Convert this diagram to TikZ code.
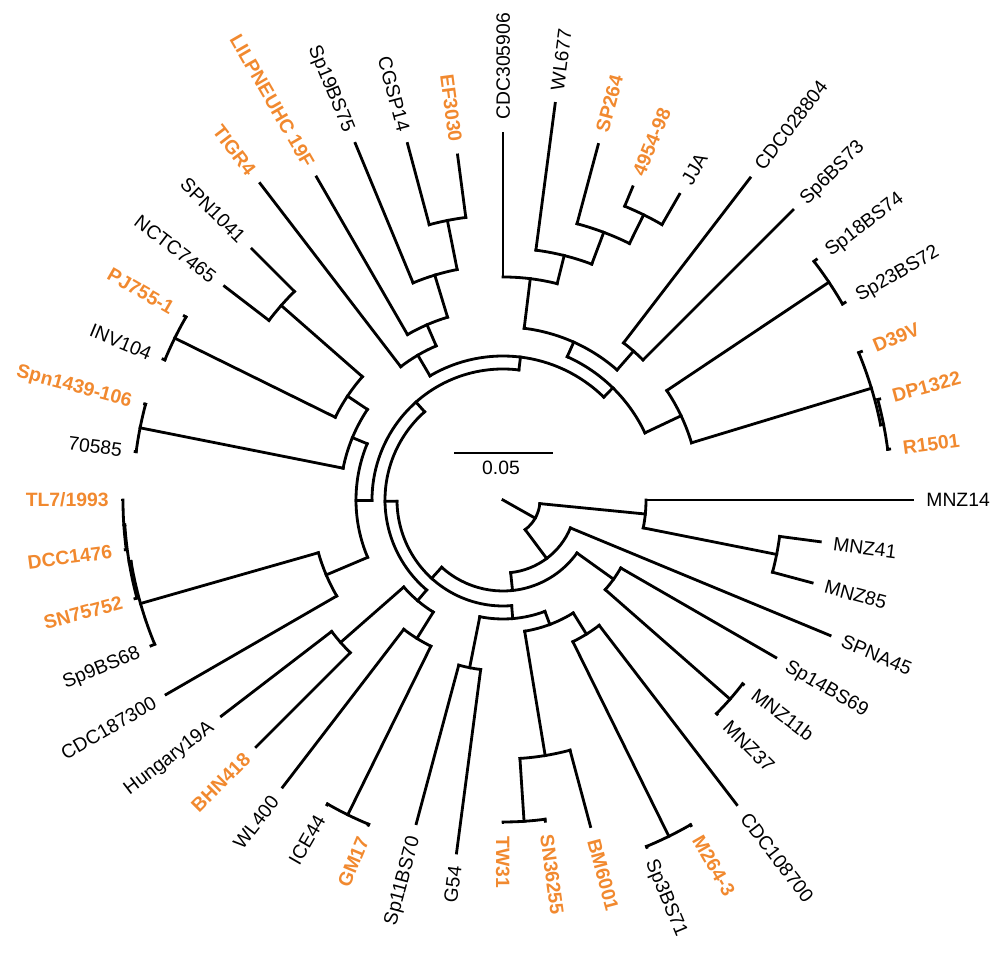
\documentclass[tikz,border=0pt]{standalone}
\usepackage{fontspec}
\setmainfont{Liberation Sans}
\definecolor{strainorange}{RGB}{241,137,47}

% radial branch: name, angle, r from, r to
\newcommand{\brn}[4]{%
  \coordinate (#1s) at (#2:#3);
  \coordinate (#1) at (#2:#4);
  \draw (#1s) -- (#1);
}
% arc of a clade: r, angle from, angle to
\newcommand{\cladearc}[3]{%
  \draw (#2:#1) arc[start angle=#2, end angle=#3, radius=#1];
}
% leaf: name, angle, r from, r tip, style, label
\newcommand{\leaf}[6]{%
  \brn{#1}{#2}{#3}{#4}
  \pgfmathsetmacro{\lr}{#4+12}
  \pgfmathtruncatemacro{\lside}{and(#2>90.5,#2<269.5)}
  \ifnum\lside=1
    \node[#5, anchor=east, rotate=#2-180] (#1l) at (#2:\lr) {#6};
  \else
    \node[#5, anchor=west, rotate=#2] (#1l) at (#2:\lr) {#6};
  \fi
}

\begin{document}
\begin{tikzpicture}[x=0.02cm, y=0.02cm, line width=1.6pt, line cap=rect,
  lbl/.style={font=\fontsize{11}{13}\selectfont, inner sep=0pt, text height=7.9pt, text depth=0pt},
  hl/.style={lbl, text=strainorange, font=\fontsize{11}{13}\selectfont\bfseries}]
  \useasboundingbox (-503,-455) rectangle (497,500);

  \coordinate (ctr) at (0,0);
  \coordinate (root) at (330.57:37);
  \draw (ctr) -- (root);
  \cladearc{37}{306.76}{354.375}

  \brn{mt}{354.375}{37}{143}
  \cladearc{143}{348.75}{360}
  \leaf{mnz14}{0}{143}{410}{lbl}{MNZ14}
  \brn{m4185}{348.75}{143}{279}
  \cladearc{279}{345}{352.5}
  \leaf{mnz41}{352.5}{279}{320}{lbl}{MNZ41}
  \leaf{mnz85}{345}{279}{320}{lbl}{MNZ85}

  \brn{x}{306.76}{37}{73}
  \cladearc{73}{276.02}{337.5}
  \leaf{spna45}{337.5}{73}{354}{lbl}{SPNA45}
  \brn{y}{276.02}{73}{91}
  \cladearc{91}{227.67}{324.375}

  \brn{y1}{324.375}{91}{136}
  \cladearc{136}{318.75}{330}
  \leaf{sp14}{330}{136}{315}{lbl}{Sp14BS69}
  \brn{mm}{318.75}{136}{302}
  \cladearc{302}{315}{322.5}
  \leaf{mnz37}{315}{302}{303}{lbl}{MNZ37}
  \leaf{mnz11b}{322.5}{302}{303}{lbl}{MNZ11b}

  \brn{y2}{227.67}{91}{106}
  \cladearc{106}{180.66}{274.69}
  \brn{y2a}{180.66}{106}{118}
  \cladearc{118}{131.63}{229.69}
  \brn{y2ai}{131.63}{118}{131}
  \cladearc{131}{83.03}{180.23}

  \brn{a}{83.03}{131}{144}
  \cladearc{144}{45.59}{120.47}
  \brn{b1}{120.47}{144}{168}
  \cladearc{168}{113.44}{127.5}
  \leaf{tigr4}{127.5}{168}{399}{hl}{TIGR4}
  \brn{b2}{113.44}{168}{191}
  \cladearc{191}{106.875}{120}
  \leaf{lilp}{120}{191}{373}{hl}{LILPNEUHC 19F}
  \brn{b3}{106.875}{191}{235}
  \cladearc{235}{101.25}{112.5}
  \leaf{sp19}{112.5}{235}{386}{lbl}{Sp19BS75}
  \brn{ce}{101.25}{235}{285}
  \cladearc{285}{97.5}{105}
  \leaf{cgsp14}{105}{285}{369}{lbl}{CGSP14}
  \leaf{ef3030}{97.5}{285}{348}{hl}{EF3030}

  \brn{a2}{45.59}{144}{157}
  \cladearc{157}{25.31}{65.86}
  \brn{n1}{65.86}{157}{173}
  \cladearc{173}{48.75}{82.97}
  \brn{cs}{48.75}{173}{198}
  \cladearc{198}{45}{52.5}
  \leaf{cdc0288}{52.5}{198}{406}{lbl}{CDC028804}
  \leaf{sp6}{45}{198}{410}{lbl}{Sp6BS73}
  \brn{n2}{82.97}{173}{223}
  \cladearc{223}{75.94}{90}
  \leaf{cdc3059}{90}{223}{367}{lbl}{CDC305906}
  \brn{n3}{75.94}{223}{252}
  \cladearc{252}{69.375}{82.5}
  \leaf{wl677}{82.5}{252}{400}{lbl}{WL677}
  \brn{n4}{69.375}{252}{286}
  \cladearc{286}{63.75}{75}
  \leaf{sp264}{75}{286}{368}{hl}{SP264}
  \brn{n5}{63.75}{286}{318}
  \cladearc{318}{60}{67.5}
  \leaf{s4954}{67.5}{318}{339}{hl}{4954-98}
  \leaf{jja}{60}{318}{353}{lbl}{JJA}

  \brn{d}{25.31}{157}{197}
  \cladearc{197}{16.875}{33.75}
  \brn{ss}{33.75}{197}{392}
  \cladearc{392}{30}{37.5}
  \leaf{sp18}{37.5}{392}{395}{lbl}{Sp18BS74}
  \leaf{sp23}{30}{392}{395}{lbl}{Sp23BS72}
  \brn{dd}{16.875}{197}{385}
  \cladearc{385}{11.25}{22.5}
  \leaf{d39v}{22.5}{385}{388}{hl}{D39V}
  \brn{dr}{11.25}{385}{388}
  \cladearc{388}{7.5}{15}
  \leaf{dp1322}{15}{388}{390}{hl}{DP1322}
  \leaf{r1501}{7.5}{388}{390}{hl}{R1501}

  \brn{b}{180.23}{131}{147}
  \cladearc{147}{157.5}{202.97}
  \brn{bup}{157.5}{147}{163}
  \cladearc{163}{146.25}{168.75}
  \brn{bupii}{146.25}{163}{187}
  \cladearc{187}{138.75}{153.75}
  \brn{sn}{138.75}{187}{295}
  \cladearc{295}{135}{142.5}
  \leaf{spn1041}{135}{295}{355}{lbl}{SPN1041}
  \leaf{nctc}{142.5}{295}{351}{lbl}{NCTC7465}
  \brn{pi}{153.75}{187}{366}
  \cladearc{366}{150}{157.5}
  \leaf{pj755}{150}{366}{368}{hl}{PJ755-1}
  \leaf{inv104}{157.5}{366}{368}{lbl}{INV104}
  \brn{s7}{168.75}{163}{370}
  \cladearc{370}{165}{172.5}
  \leaf{spn1439}{165}{370}{371}{hl}{Spn1439-106}
  \leaf{s70585}{172.5}{370}{371}{lbl}{70585}

  \brn{bdn}{202.97}{147}{192}
  \cladearc{192}{195.94}{210}
  \leaf{cdc1873}{210}{192}{389}{lbl}{CDC187300}
  \brn{si}{195.94}{192}{377}
  \cladearc{377}{189.375}{202.5}
  \leaf{sp9}{202.5}{377}{381}{lbl}{Sp9BS68}
  \brn{sii}{189.375}{377}{379}
  \cladearc{379}{183.75}{195}
  \leaf{sn75752}{195}{379}{381}{hl}{SN75752}
  \brn{siii}{183.75}{379}{380}
  \cladearc{380}{180}{187.5}
  \leaf{tl7}{180}{380}{381}{hl}{TL7/1993}
  \leaf{dcc1476}{187.5}{380}{381}{hl}{DCC1476}

  \brn{y2aii}{229.69}{118}{132}
  \cladearc{132}{221.25}{238.125}
  \brn{hb}{221.25}{132}{216}
  \cladearc{216}{217.5}{225}
  \leaf{hung}{217.5}{216}{355}{lbl}{Hungary19A}
  \leaf{bhn418}{225}{216}{349}{hl}{BHN418}
  \brn{wg}{238.125}{132}{163}
  \cladearc{163}{232.5}{243.75}
  \leaf{wl400}{232.5}{163}{362}{lbl}{WL400}
  \brn{ig}{243.75}{163}{351}
  \cladearc{351}{240}{247.5}
  \leaf{ice44}{240}{351}{352}{lbl}{ICE44}
  \leaf{gm17}{247.5}{351}{352}{hl}{GM17}

  \brn{y2b}{274.69}{106}{119}
  \cladearc{119}{258.75}{290.625}
  \brn{sg}{258.75}{119}{171}
  \cladearc{171}{255}{262.5}
  \leaf{sp11}{255}{171}{335}{lbl}{Sp11BS70}
  \leaf{g54}{262.5}{171}{356}{lbl}{G54}
  \brn{p}{290.625}{119}{133}
  \cladearc{133}{279.375}{301.875}
  \brn{q}{279.375}{133}{259}
  \cladearc{259}{273.75}{285}
  \leaf{bm6001}{285}{259}{338}{hl}{BM6001}
  \brn{ts}{273.75}{259}{322}
  \cladearc{322}{270}{277.5}
  \leaf{tw31}{270}{322}{323}{hl}{TW31}
  \leaf{sn36255}{277.5}{322}{324}{hl}{SN36255}
  \brn{mc}{301.875}{133}{158}
  \cladearc{158}{296.25}{307.5}
  \leaf{cdc1087}{307.5}{158}{384}{lbl}{CDC108700}
  \brn{sm}{296.25}{158}{375}
  \cladearc{375}{292.5}{300}
  \leaf{sp3}{292.5}{375}{376}{lbl}{Sp3BS71}
  \leaf{m264}{300}{375}{376}{hl}{M264-3}

  \coordinate (sb1) at (-48,47);
  \coordinate (sb2) at (49,47);
  \draw (sb1) -- (sb2);
  \node[lbl] (sbl) at (-2,32) {0.05};
\end{tikzpicture}
\end{document}
